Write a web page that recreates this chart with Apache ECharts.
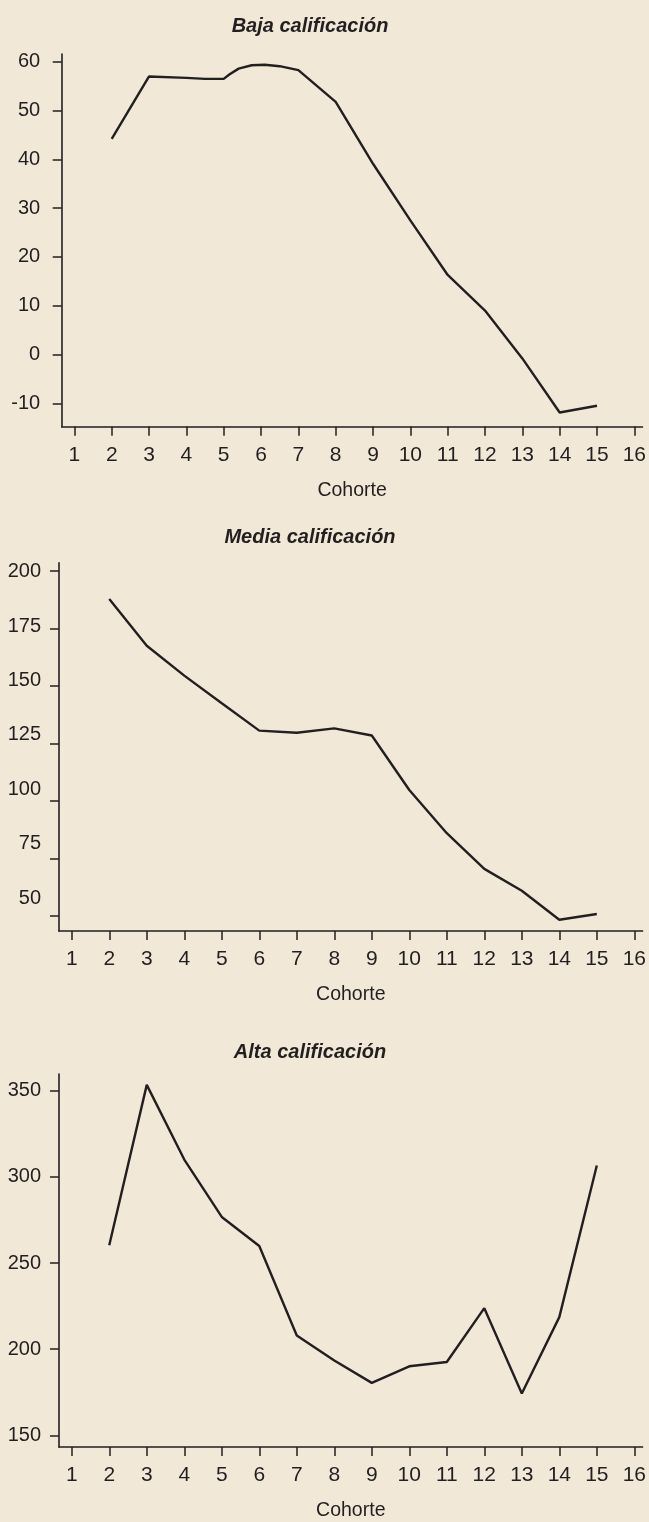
<!DOCTYPE html>
<html>
<head>
<meta charset="utf-8">
<script src="https://cdn.jsdelivr.net/npm/echarts@6/dist/echarts.min.js"></script>
<style>
  html, body { margin: 0; padding: 0; background: #f1e8d7; }
  #chart { width: 649px; height: 1522px; }
</style>
</head>
<body>
<div id="chart"></div>
<script>
// ---- data ----
const titles = ['Baja calificación', 'Media calificación', 'Alta calificación'];
const xTickValues = [1, 2, 3, 4, 5, 6, 7, 8, 9, 10, 11, 12, 13, 14, 15, 16];
const xAxisName = 'Cohorte';

// Baja calificación (extra points describe the rounded hump between cohorts 5 and 7)
const bajaCohortes = [2, 3, 4, 4.5, 5, 5.15, 5.4, 5.75, 6.1, 6.5, 7, 8, 9, 10, 11, 12, 13, 14, 15];
const bajaValores  = [44.2, 57.0, 56.7, 56.5, 56.5, 57.4, 58.6, 59.3, 59.4, 59.1, 58.3, 51.8, 39.1, 27.5, 16.3, 9.0, -0.8, -11.9, -10.5];
const bajaTicks = [-10, 0, 10, 20, 30, 40, 50, 60];

// Media calificación
const mediaCohortes = [2, 3, 4, 5, 6, 7, 8, 9, 10, 11, 12, 13, 14, 15];
const mediaValores  = [187.8, 167.5, 154.5, 142.5, 130.6, 129.7, 131.6, 128.5, 104.8, 86.0, 70.5, 61.0, 48.4, 50.9];
const mediaTicks = [50, 75, 100, 125, 150, 175, 200];

// Alta calificación
const altaCohortes = [2, 3, 4, 5, 6, 7, 8, 9, 10, 11, 12, 13, 14, 15];
const altaValores  = [260.3, 353.3, 310.0, 276.7, 259.9, 208.0, 193.5, 180.5, 190.1, 192.6, 223.8, 174.3, 218.6, 306.5];
const altaTicks = [150, 200, 250, 300, 350];

// ---- styling ----
const INK = '#231f20';
const FONT = "'Liberation Sans', Arial, Helvetica, sans-serif";

function pairs(xs, ys) { return xs.map((x, i) => [x, ys[i]]); }

function xAxisFor(gridIndex) {
  return {
    type: 'value', gridIndex: gridIndex, min: 0.66, max: 16.22,
    axisLine: { show: true, onZero: false, lineStyle: { color: INK, width: 1.6 } },
    axisTick: { show: true, length: 9, customValues: xTickValues, lineStyle: { color: INK, width: 1.5 } },
    axisLabel: { customValues: xTickValues, margin: 18, color: INK, fontFamily: FONT, fontSize: 21 },
    splitLine: { show: false },
    name: xAxisName, nameLocation: 'middle', nameGap: 54,
    nameTextStyle: { color: INK, fontFamily: FONT, fontSize: 19.5 }
  };
}

function yAxisFor(gridIndex, min, max, ticks, opts) {
  opts = opts || {};
  return {
    type: 'value', gridIndex: gridIndex, min: min, max: max, position: 'left',
    axisLine: { show: opts.line !== false, onZero: false, lineStyle: { color: INK, width: 1.6 } },
    axisTick: { show: opts.tick !== false, length: 9, customValues: ticks, lineStyle: { color: INK, width: 1.5 } },
    axisLabel: { show: opts.label !== false, customValues: ticks, margin: opts.margin || 18, color: INK, fontFamily: FONT, fontSize: 20 },
    splitLine: { show: false }
  };
}

function titleFor(text, top) {
  return {
    text: text, left: 305, top: top, textAlign: 'center',
    textStyle: { color: INK, fontFamily: FONT, fontSize: 20, fontWeight: 'bold', fontStyle: 'italic' }
  };
}

function lineSeries(xi, yi, data) {
  return {
    type: 'line', xAxisIndex: xi, yAxisIndex: yi, data: data,
    showSymbol: false, symbol: 'none', smooth: false,
    lineStyle: { color: INK, width: 2.4 }, z: 5
  };
}

const chart = echarts.init(document.getElementById('chart'), null, { renderer: 'canvas' });
chart.setOption({
  backgroundColor: '#f1e8d7',
  animation: false,
  title: [
    titleFor(titles[0], 11),
    titleFor(titles[1], 522),
    titleFor(titles[2], 1037)
  ],
  grid: [
    { left: 61.7, right: 5.7, top: 54, height: 372.7 },
    { left: 59, right: 6.3, top: 562.7, height: 368.3 },
    { left: 59, right: 6.3, top: 1074, height: 374.3 }
  ],
  xAxis: [xAxisFor(0), xAxisFor(1), xAxisFor(2)],
  yAxis: [
    yAxisFor(0, -14.8, 61.6, bajaTicks, { margin: 21.5 }),
    // middle panel: tick marks and tick labels sit on slightly different spacings in the reference
    yAxisFor(1, 43.5, 203.6, mediaTicks, { label: false }),
    yAxisFor(1, 35.0, 204.1, mediaTicks, { line: false, tick: false }),
    yAxisFor(2, 143.3, 359.6, altaTicks)
  ],
  series: [
    lineSeries(0, 0, pairs(bajaCohortes, bajaValores)),
    lineSeries(1, 1, pairs(mediaCohortes, mediaValores)),
    lineSeries(2, 3, pairs(altaCohortes, altaValores))
  ]
});
</script>
</body>
</html>
